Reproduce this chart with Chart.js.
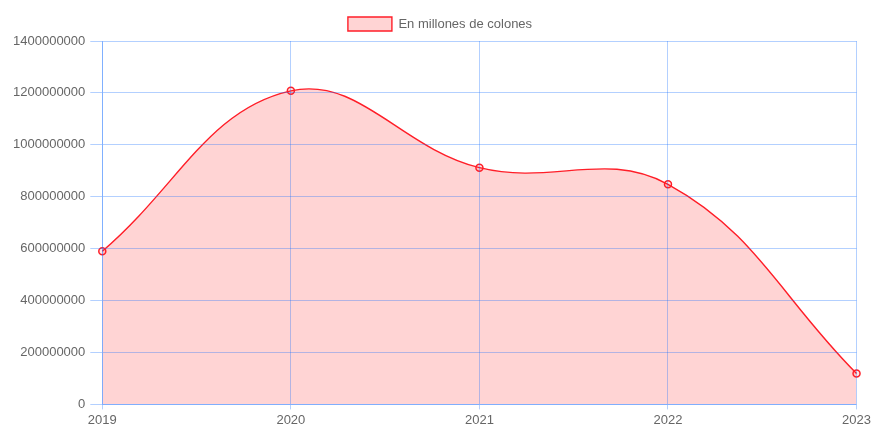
<!DOCTYPE html>
<html>
<head>
<meta charset="utf-8">
<script src="https://cdn.jsdelivr.net/npm/chart.js@4/dist/chart.umd.min.js"></script>
<style>
  html, body { margin: 0; padding: 0; background: #fff; }
  #wrap { width: 874px; height: 431px; position: relative; }
</style>
</head>
<body>
<div id="wrap"><canvas id="grafico"></canvas></div>
<script>
// datos
const anios = ['2019', '2020', '2021', '2022', '2023'];
const montos = [590000000, 1208000000, 912000000, 848000000, 119000000];
const serieNombre = 'En millones de colones';

const colorGrid = 'rgba(20, 110, 255, 0.32)';

Chart.defaults.font.family = '"Liberation Sans", Arial, Helvetica, sans-serif';
Chart.defaults.font.size = 13;
Chart.defaults.color = '#666';

new Chart(document.getElementById('grafico').getContext('2d'), {
  type: 'line',
  data: {
    labels: anios,
    datasets: [{
      label: serieNombre,
      data: montos,
      backgroundColor: 'rgba(255, 0, 0, 0.17)',
      borderColor: 'rgb(255, 30, 40)',
      borderWidth: 1.4,
      pointBackgroundColor: 'rgba(255, 0, 0, 0.1)',
      pointBorderColor: 'rgb(255, 30, 40)',
      pointBorderWidth: 1.5,
      pointRadius: 3.5,
      tension: 0.4,
      fill: true
    }]
  },
  options: {
    responsive: true,
    maintainAspectRatio: false,
    animation: false,
    layout: { padding: { left: 8, right: 2, top: 3, bottom: 0 } },
    scales: {
      x: {
        grid: { color: colorGrid, tickLength: 5, z: 1 },
        border: { color: colorGrid, z: 1 },
        ticks: { padding: 3, maxRotation: 0 }
      },
      y: {
        min: 0, max: 1400000000,
        grid: { color: colorGrid, tickLength: 12, z: 1 },
        border: { color: colorGrid, z: 1 },
        ticks: { stepSize: 200000000, padding: 5, callback: v => String(v) }
      }
    },
    plugins: {
      legend: {
        labels: { boxWidth: 44, boxHeight: 14, padding: 14 }
      },
      tooltip: { enabled: false }
    }
  }
});
</script>
</body>
</html>
